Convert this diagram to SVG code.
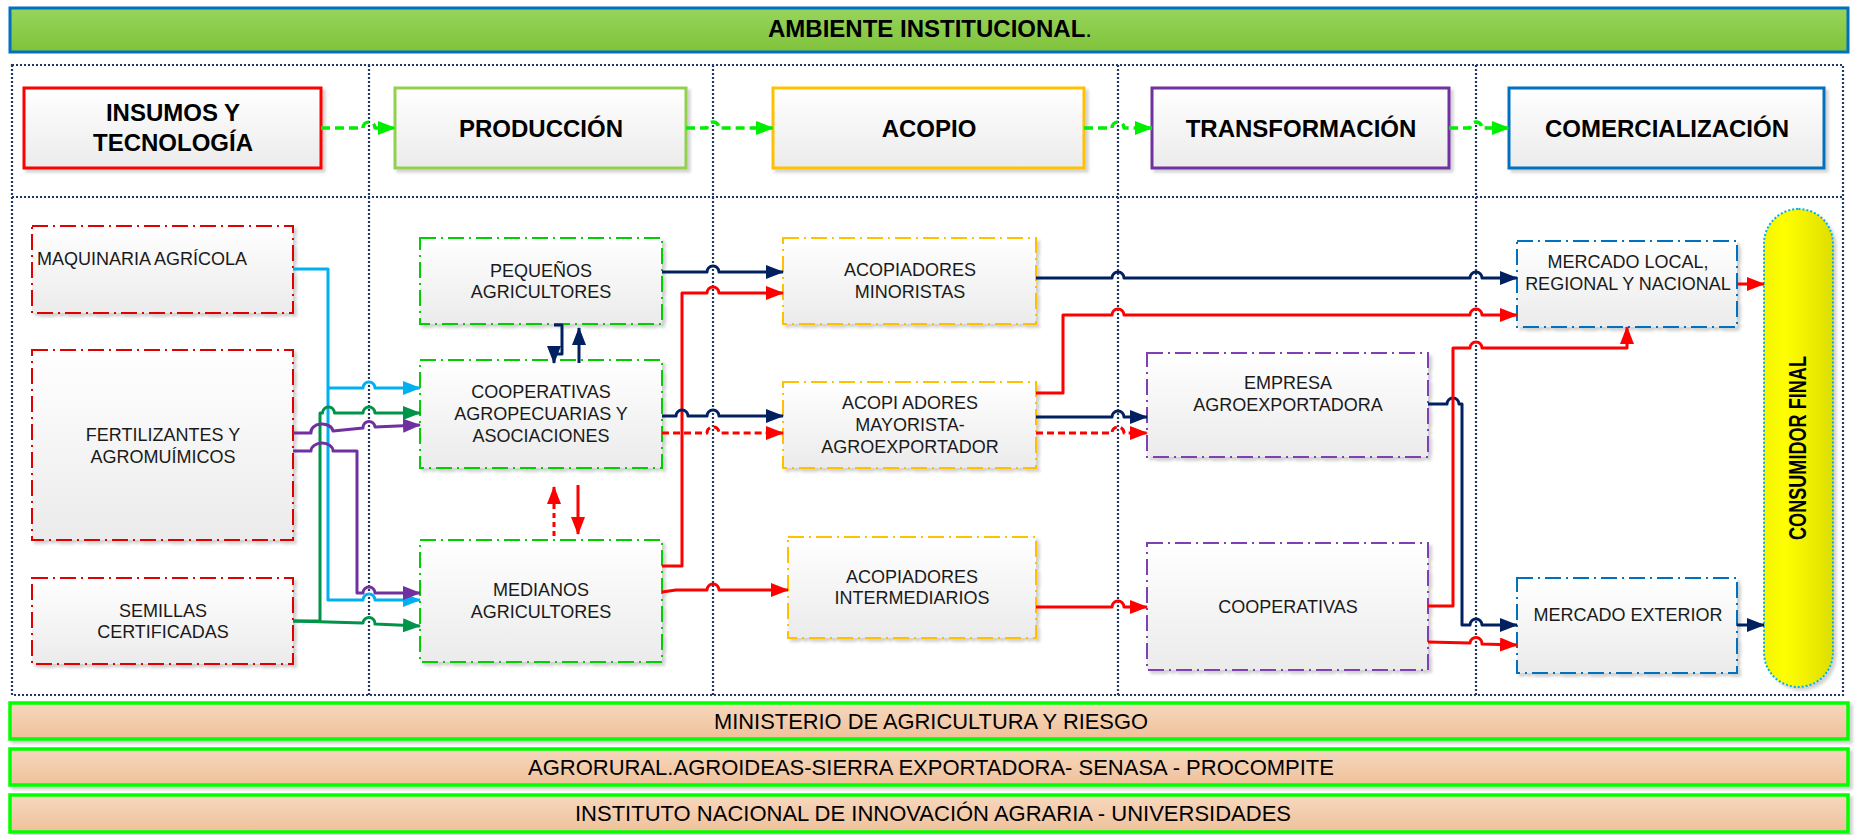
<svg xmlns="http://www.w3.org/2000/svg" width="1856" height="835" viewBox="0 0 1856 835">
  <style>
    .t { font-family: "Liberation Sans", Arial, sans-serif; font-size: 18px; fill: #1a1a1a; text-anchor: middle; }
    .ts { text-anchor: start; }
    .th { font-family: "Liberation Sans", Arial, sans-serif; font-size: 24px; font-weight: bold; fill: #000; text-anchor: middle; }
    .tb { font-family: "Liberation Sans", Arial, sans-serif; font-size: 21.5px; fill: #000; text-anchor: middle; }
    .hdr { fill: url(#gNode); stroke-width: 3; filter: url(#sh); }
    .node { fill: url(#gNode); stroke-width: 2; stroke-dasharray: 16 5 2 5; filter: url(#sh); }
    .bar { fill: url(#gBar); stroke: #00ff00; stroke-width: 3.5; filter: url(#sh); }
    .grid { fill: none; stroke: #1f3864; stroke-width: 2.2; stroke-dasharray: 2 2; }
    .c { fill: none; stroke-width: 3; stroke-linejoin: round; }
    .navy { stroke: #002060; marker-end: url(#aNavy); }
    .red { stroke: #ff0000; marker-end: url(#aRed); }
    .redd { stroke: #ff0000; stroke-dasharray: 7 4; marker-end: url(#aRed); }
    .blue { stroke: #00b0f0; marker-end: url(#aBlue); }
    .green { stroke: #00934a; marker-end: url(#aGreen); }
    .purple { stroke: #7030a0; marker-end: url(#aPurple); }
    .flow { stroke: #00ee00; stroke-width: 3.5; stroke-dasharray: 9 5; marker-end: url(#aLime); }
    .insumo { stroke: #e00000; }
    .prod { stroke: #00d000; }
    .acop { stroke: #ffc000; }
    .trans { stroke: #7f3fb5; }
    .com { stroke: #0070c0; }
  </style>
  <defs>
    <linearGradient id="gNode" x1="0" y1="0" x2="0" y2="1">
      <stop offset="0" stop-color="#ffffff"/>
      <stop offset="1" stop-color="#ebebeb"/>
    </linearGradient>
    <linearGradient id="gBanner" x1="0" y1="0" x2="0" y2="1">
      <stop offset="0" stop-color="#97d55c"/>
      <stop offset="1" stop-color="#7fc23a"/>
    </linearGradient>
    <linearGradient id="gBar" x1="0" y1="0" x2="0" y2="1">
      <stop offset="0" stop-color="#f7d8be"/>
      <stop offset="1" stop-color="#efc19a"/>
    </linearGradient>
    <linearGradient id="gPill" x1="0" y1="0" x2="1" y2="0">
      <stop offset="0" stop-color="#f4f400"/>
      <stop offset="0.3" stop-color="#ffff00"/>
      <stop offset="1" stop-color="#dede00"/>
    </linearGradient>
    <filter id="sh" x="-5%" y="-10%" width="115%" height="130%">
      <feDropShadow dx="3" dy="3" stdDeviation="1.5" flood-color="#000" flood-opacity="0.18"/>
    </filter>
    <marker id="aNavy" viewBox="0 0 18 14" refX="17" refY="7" markerWidth="18" markerHeight="14" markerUnits="userSpaceOnUse" orient="auto"><path d="M0,0 L18,7 L0,14 z" fill="#002060"/></marker>
    <marker id="aRed" viewBox="0 0 18 14" refX="17" refY="7" markerWidth="18" markerHeight="14" markerUnits="userSpaceOnUse" orient="auto"><path d="M0,0 L18,7 L0,14 z" fill="#ff0000"/></marker>
    <marker id="aBlue" viewBox="0 0 18 14" refX="17" refY="7" markerWidth="18" markerHeight="14" markerUnits="userSpaceOnUse" orient="auto"><path d="M0,0 L18,7 L0,14 z" fill="#00b0f0"/></marker>
    <marker id="aGreen" viewBox="0 0 18 14" refX="17" refY="7" markerWidth="18" markerHeight="14" markerUnits="userSpaceOnUse" orient="auto"><path d="M0,0 L18,7 L0,14 z" fill="#00934a"/></marker>
    <marker id="aPurple" viewBox="0 0 18 14" refX="17" refY="7" markerWidth="18" markerHeight="14" markerUnits="userSpaceOnUse" orient="auto"><path d="M0,0 L18,7 L0,14 z" fill="#7030a0"/></marker>
    <marker id="aLime" viewBox="0 0 18 14" refX="17" refY="7" markerWidth="18" markerHeight="14" markerUnits="userSpaceOnUse" orient="auto"><path d="M0,0 L18,7 L0,14 z" fill="#00ee00"/></marker>
  </defs>

  <rect width="1856" height="835" fill="#ffffff"/>

  <!-- institutional banner -->
  <g id="banner">
    <rect x="10" y="8" width="1838" height="44" fill="url(#gBanner)" stroke="#0070c0" stroke-width="3"/>
    <text class="th" x="930" y="37" font-size="22">AMBIENTE INSTITUCIONAL<tspan font-weight="normal">.</tspan></text>
  </g>

  <!-- dotted swimlane frame -->
  <g id="lanes">
    <rect class="grid" x="12" y="65" width="1831" height="630"/>
    <line class="grid" x1="12" y1="197" x2="1843" y2="197"/>
    <line class="grid" x1="369" y1="65" x2="369" y2="695"/>
    <line class="grid" x1="713" y1="65" x2="713" y2="695"/>
    <line class="grid" x1="1118" y1="65" x2="1118" y2="695"/>
    <line class="grid" x1="1476" y1="65" x2="1476" y2="695"/>
  </g>

  <!-- stage headers -->
  <g id="header-insumos">
    <rect class="hdr" x="24" y="88" width="297" height="80" stroke="#ff0000"/>
    <text class="th" x="173" y="121">INSUMOS Y</text>
    <text class="th" x="173" y="151">TECNOLOGÍA</text>
  </g>
  <g id="header-produccion">
    <rect class="hdr" x="395" y="88" width="291" height="80" stroke="#92d050"/>
    <text class="th" x="541" y="137">PRODUCCIÓN</text>
  </g>
  <g id="header-acopio">
    <rect class="hdr" x="773" y="88" width="311" height="80" stroke="#ffc000"/>
    <text class="th" x="929" y="137">ACOPIO</text>
  </g>
  <g id="header-transformacion">
    <rect class="hdr" x="1152" y="88" width="297" height="80" stroke="#7030a0"/>
    <text class="th" x="1301" y="137">TRANSFORMACIÓN</text>
  </g>
  <g id="header-comercializacion">
    <rect class="hdr" x="1509" y="88" width="315" height="80" stroke="#0070c0"/>
    <text class="th" x="1667" y="137">COMERCIALIZACIÓN</text>
  </g>

  <!-- input suppliers -->
  <g id="n-maquinaria">
    <rect class="node insumo" x="32" y="226" width="261" height="87"/>
    <text class="t ts" x="37" y="265">MAQUINARIA AGRÍCOLA</text>
  </g>
  <g id="n-fertilizantes">
    <rect class="node insumo" x="32" y="350" width="261" height="190"/>
    <text class="t" x="163" y="441">FERTILIZANTES Y</text>
    <text class="t" x="163" y="463">AGROMUÍMICOS</text>
  </g>
  <g id="n-semillas">
    <rect class="node insumo" x="32" y="578" width="261" height="86"/>
    <text class="t" x="163" y="617">SEMILLAS</text>
    <text class="t" x="163" y="638">CERTIFICADAS</text>
  </g>

  <!-- producers -->
  <g id="n-pequenos">
    <rect class="node prod" x="420" y="238" width="242" height="86"/>
    <text class="t" x="541" y="277">PEQUEÑOS</text>
    <text class="t" x="541" y="298">AGRICULTORES</text>
  </g>
  <g id="n-cooperativas">
    <rect class="node prod" x="420" y="360" width="242" height="108"/>
    <text class="t" x="541" y="398">COOPERATIVAS</text>
    <text class="t" x="541" y="420">AGROPECUARIAS Y</text>
    <text class="t" x="541" y="442">ASOCIACIONES</text>
  </g>
  <g id="n-medianos">
    <rect class="node prod" x="420" y="540" width="242" height="122"/>
    <text class="t" x="541" y="596">MEDIANOS</text>
    <text class="t" x="541" y="618">AGRICULTORES</text>
  </g>

  <!-- collectors -->
  <g id="n-minoristas">
    <rect class="node acop" x="783" y="238" width="253" height="86"/>
    <text class="t" x="910" y="276">ACOPIADORES</text>
    <text class="t" x="910" y="298">MINORISTAS</text>
  </g>
  <g id="n-mayorista">
    <rect class="node acop" x="783" y="382" width="253" height="86"/>
    <text class="t" x="910" y="409">ACOPI ADORES</text>
    <text class="t" x="910" y="431">MAYORISTA-</text>
    <text class="t" x="910" y="453">AGROEXPORTADOR</text>
  </g>
  <g id="n-intermediarios">
    <rect class="node acop" x="788" y="537" width="248" height="101"/>
    <text class="t" x="912" y="583">ACOPIADORES</text>
    <text class="t" x="912" y="604">INTERMEDIARIOS</text>
  </g>

  <!-- processing -->
  <g id="n-empresa">
    <rect class="node trans" x="1147" y="353" width="281" height="104"/>
    <text class="t" x="1288" y="389">EMPRESA</text>
    <text class="t" x="1288" y="411">AGROEXPORTADORA</text>
  </g>
  <g id="n-cooperativas-t">
    <rect class="node trans" x="1147" y="543" width="281" height="127"/>
    <text class="t" x="1288" y="613">COOPERATIVAS</text>
  </g>

  <!-- markets -->
  <g id="n-mercado-local">
    <rect class="node com" x="1517" y="241" width="220" height="86"/>
    <text class="t" x="1628" y="268">MERCADO LOCAL,</text>
    <text class="t" x="1628" y="290">REGIONAL Y NACIONAL</text>
  </g>
  <g id="n-mercado-exterior">
    <rect class="node com" x="1517" y="578" width="220" height="95"/>
    <text class="t" x="1628" y="621">MERCADO EXTERIOR</text>
  </g>
  <g id="n-consumidor">
    <rect x="1764" y="209" width="69" height="478" rx="34.5" fill="url(#gPill)" stroke="#00b0f0" stroke-width="2" stroke-dasharray="2 2" filter="url(#sh)"/>
    <text class="th" font-size="20" transform="translate(1806,448) rotate(-90)" x="0" y="0" textLength="184" lengthAdjust="spacingAndGlyphs">CONSUMIDOR FINAL</text>
  </g>

  <!-- supporting institutions -->
  <g id="bar-minag">
    <rect class="bar" x="10" y="703" width="1838" height="36"/>
    <text class="tb" x="931" y="729" textLength="434" lengthAdjust="spacingAndGlyphs">MINISTERIO DE AGRICULTURA Y RIESGO</text>
  </g>
  <g id="bar-agrorural">
    <rect class="bar" x="10" y="749" width="1838" height="36"/>
    <text class="tb" x="931" y="775" textLength="806" lengthAdjust="spacingAndGlyphs">AGRORURAL.AGROIDEAS-SIERRA EXPORTADORA- SENASA - PROCOMPITE</text>
  </g>
  <g id="bar-inia">
    <rect class="bar" x="10" y="795" width="1838" height="37"/>
    <text class="tb" x="933" y="821" textLength="716" lengthAdjust="spacingAndGlyphs">INSTITUTO NACIONAL DE INNOVACIÓN AGRARIA - UNIVERSIDADES</text>
  </g>

  <!-- connectors -->
  <g id="connectors">
    <!-- stage sequence -->
    <path class="c flow" d="M321 128 H363 A6 6 0 0 1 375 128 H395"/>
    <path class="c flow" d="M686 128 H707 A6 6 0 0 1 719 128 H773"/>
    <path class="c flow" d="M1084 128 H1112 A6 6 0 0 1 1124 128 H1152"/>
    <path class="c flow" d="M1449 128 H1470 A6 6 0 0 1 1482 128 H1509"/>

    <!-- inputs to producers -->
    <path class="c blue" d="M293 269 H328 V600 H363 A6 6 0 0 1 375 600 H420"/>
    <path class="c blue" d="M328 388 H363 A6 6 0 0 1 375 388 H420"/>
    <path class="c green" d="M293 621 H320 V413 H322.5 A6 6 0 0 1 334.5 413 H363 A6 6 0 0 1 375 413 H420"/>
    <path class="c green" d="M293 621 L363 623 A6 6 0 0 1 375 624 L420 626"/>
    <path class="c purple" d="M293 433 H311 A11 8 0 0 1 333 431 L363 428 A6 6 0 0 1 375 427 L420 425"/>
    <path class="c purple" d="M293 451 H311 A11 8 0 0 1 333 451 H357 V593 H363 A6 6 0 0 1 375 593 H420"/>

    <!-- between producers -->
    <path class="c navy" d="M554 325 H562 V354 H554 V363"/>
    <path class="c navy" d="M579 363 V328"/>
    <path class="c red" stroke-dasharray="5 4" d="M554 536 V487"/>
    <path class="c red" d="M578 485 V534"/>

    <!-- producers to collectors -->
    <path class="c navy" d="M662 272 H707 A6 6 0 0 1 719 272 H783"/>
    <path class="c red" d="M662 566 H682 V293 H707 A6 6 0 0 1 719 293 H783"/>
    <path class="c navy" d="M662 416 H676 A6 6 0 0 1 688 416 H707 A6 6 0 0 1 719 416 H783"/>
    <path class="c redd" d="M662 433 H707 A6 6 0 0 1 719 433 H783"/>
    <path class="c red" d="M662 592 L676 590 H707 A6 6 0 0 1 719 590 H788"/>

    <!-- collectors onward -->
    <path class="c navy" d="M1036 278 H1112 A6 6 0 0 1 1124 278 H1470 A6 6 0 0 1 1482 278 H1517"/>
    <path class="c red" d="M1036 393 H1063 V315 H1112 A6 6 0 0 1 1124 315 H1470 A6 6 0 0 1 1482 315 H1517"/>
    <path class="c navy" d="M1036 417 H1112 A6 6 0 0 1 1124 417 H1147"/>
    <path class="c redd" d="M1036 433 H1112 A6 6 0 0 1 1124 433 H1147"/>
    <path class="c red" d="M1036 607 H1112 A6 6 0 0 1 1124 607 H1147"/>

    <!-- processors to markets -->
    <path class="c navy" d="M1428 404 H1447 A6 6 0 0 1 1459 404 H1462 V625 H1470 A6 6 0 0 1 1482 625 H1517"/>
    <path class="c red" d="M1428 606 H1453 V348 H1470 A6 6 0 0 1 1482 348 H1627 V327"/>
    <path class="c red" d="M1428 642 L1470 643 A6 6 0 0 1 1482 644 L1517 645"/>

    <!-- markets to final consumer -->
    <path class="c red" d="M1737 284 H1764"/>
    <path class="c navy" d="M1737 625 H1764"/>
  </g>
</svg>
